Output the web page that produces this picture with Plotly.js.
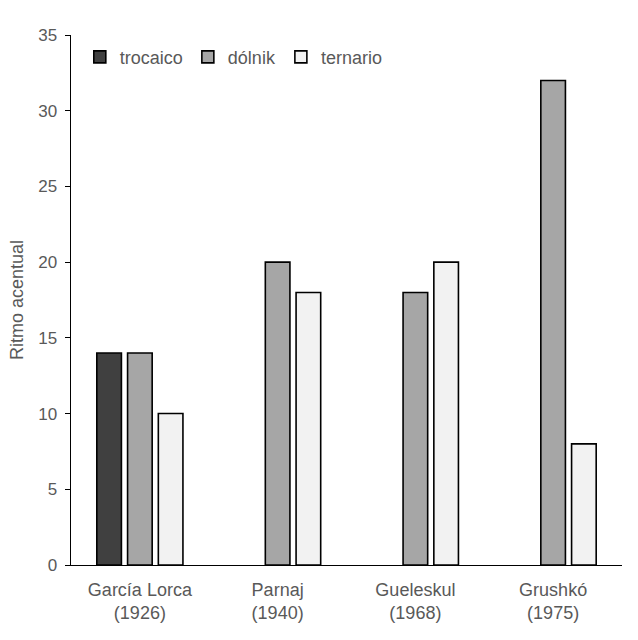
<!DOCTYPE html>
<html>
<head>
<meta charset="utf-8">
<script src="https://cdn.plot.ly/plotly-3.0.1.min.js"></script>
<style>html,body{margin:0;padding:0;background:#fff;}#chart{width:638px;height:640px;}</style>
</head>
<body>
<div id="chart"></div>
<script>
const categories = ['García Lorca<br>(1926)', 'Parnaj<br>(1940)', 'Gueleskul<br>(1968)', 'Grushkó<br>(1975)'];
const trocaico = [14, null, null, null];
const dolnik = [14, 20, 18, 32];
const ternario = [10, 18, 20, 8];
const yTicks = [0, 5, 10, 15, 20, 25, 30, 35];

const line = {color: '#000000', width: 1.6};
const traces = [
  {type: 'bar', name: 'trocaico', x: categories, y: trocaico, marker: {color: '#404040', line: line}},
  {type: 'bar', name: 'dólnik', x: categories, y: dolnik, marker: {color: '#a6a6a6', line: line}},
  {type: 'bar', name: 'ternario', x: categories, y: ternario, marker: {color: '#f2f2f2', line: line}}
];

const textColor = '#595959';
const layout = {
  width: 638, height: 640,
  margin: {l: 71, r: 16, t: 35, b: 75},
  paper_bgcolor: '#ffffff', plot_bgcolor: '#ffffff',
  font: {family: '"Liberation Sans", Arial, sans-serif', color: textColor, size: 17},
  barmode: 'group',
  bargap: 0.33,
  bargroupgap: 0.2,
  showlegend: true,
  legend: {orientation: 'h', x: 0.016, y: 0.993, xanchor: 'left', yanchor: 'top',
           font: {size: 18, color: textColor}, bgcolor: 'rgba(0,0,0,0)', traceorder: 'normal'},
  xaxis: {showline: true, linecolor: '#000000', linewidth: 1.2, ticks: '', showgrid: false,
          ticklabelstandoff: 8, tickfont: {size: 18, color: textColor}, fixedrange: true},
  yaxis: {range: [0, 35], tickvals: yTicks, ticktext: yTicks.map(String), showline: true,
          linecolor: '#000000', linewidth: 1.5, ticks: 'outside', ticklen: 5, tickcolor: '#000000',
          ticklabelstandoff: 4,
          showgrid: false, zeroline: false, tickfont: {size: 17, color: textColor},
          title: {text: 'Ritmo acentual', font: {size: 18, color: textColor}, standoff: 10}}
};

Plotly.newPlot('chart', traces, layout, {displayModeBar: false, staticPlot: true});
</script>
</body>
</html>
